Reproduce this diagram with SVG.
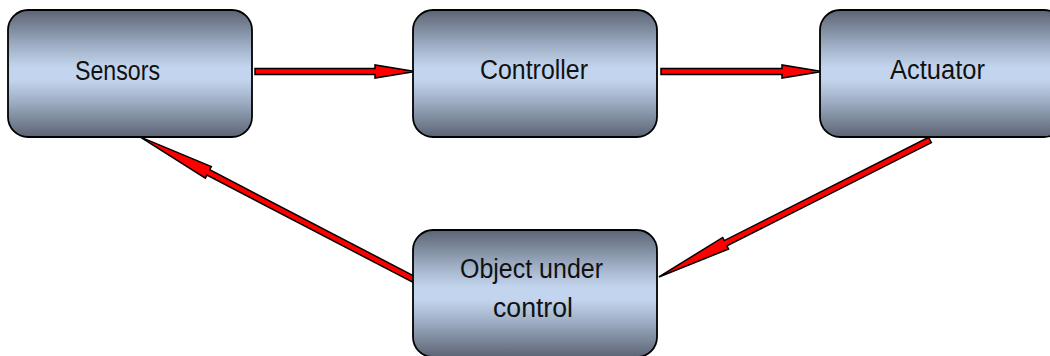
<svg xmlns="http://www.w3.org/2000/svg" width="1050" height="356" viewBox="0 0 1050 356">
  <defs>
    <linearGradient id="boxFill" x1="0" y1="0" x2="0" y2="1">
      <stop offset="0" stop-color="#5b6474"/>
      <stop offset="0.28" stop-color="#9eaec4"/>
      <stop offset="0.45" stop-color="#c3d5ee"/>
      <stop offset="0.55" stop-color="#c3d5ee"/>
      <stop offset="0.72" stop-color="#9eaec4"/>
      <stop offset="1" stop-color="#5b6474"/>
    </linearGradient>
  </defs>
  <style>
    .box { fill: url(#boxFill); stroke: #000; stroke-width: 1.8; }
    .label { font-family: "Liberation Sans", Arial, sans-serif; font-size: 27px; fill: #111; }
    .arrow { fill: #ff0000; stroke: #000; stroke-width: 1.5; stroke-linejoin: miter; }
  </style>
  <rect width="1050" height="356" fill="#fff"/>

  <g id="connectors">
    <!-- Sensors -> Controller -->
    <path class="arrow" d="M255,68.5 H375 V65 L415,71.5 L375,78 V74.5 H255 Z"/>
    <!-- Controller -> Actuator -->
    <path class="arrow" d="M661,68.5 H782 V65 L822,71.5 L782,78 V74.5 H661 Z"/>
    <!-- Actuator -> Object under control -->
    <path class="arrow" transform="translate(930,140) rotate(153.2)" d="M0,-3 H229 V-6.5 L303.7,0 L229,6.5 V3 H0 Z"/>
    <!-- Object under control -> Sensors -->
    <path class="arrow" transform="translate(415,280) rotate(207.5)" d="M0,-3 H233 V-6.5 L310,0 L233,6.5 V3 H0 Z"/>
  </g>

  <g id="sensors">
    <rect class="box" x="8" y="10" width="244" height="127" rx="20" ry="20"/>
    <text class="label" x="75" y="80" textLength="85" lengthAdjust="spacingAndGlyphs">Sensors</text>
  </g>

  <g id="controller">
    <rect class="box" x="413" y="10" width="244" height="127" rx="20" ry="20"/>
    <text class="label" x="480" y="78.5" textLength="108" lengthAdjust="spacingAndGlyphs">Controller</text>
  </g>

  <g id="actuator">
    <rect class="box" x="820" y="10" width="244" height="127" rx="20" ry="20"/>
    <text class="label" x="890" y="79" textLength="95" lengthAdjust="spacingAndGlyphs">Actuator</text>
  </g>

  <g id="object-under-control">
    <rect class="box" x="413" y="230" width="244" height="127" rx="20" ry="20"/>
    <text class="label" x="460" y="278" textLength="143" lengthAdjust="spacingAndGlyphs">Object under</text>
    <text class="label" x="493" y="316.5" textLength="80" lengthAdjust="spacingAndGlyphs">control</text>
  </g>
</svg>
